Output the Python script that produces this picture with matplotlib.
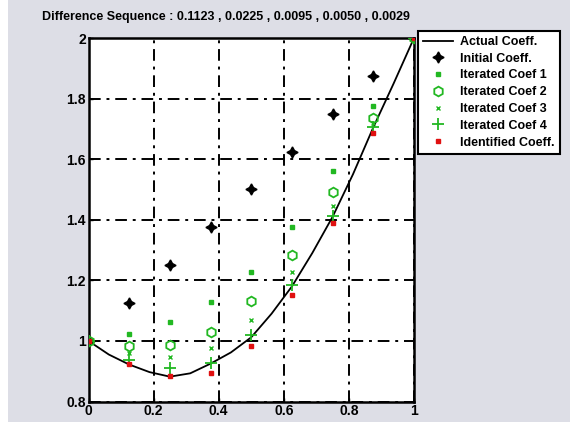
import matplotlib
matplotlib.use("Agg")
import matplotlib.pyplot as plt
from matplotlib.patches import Rectangle

plt.rcParams["font.family"] = ["Liberation Sans", "DejaVu Sans"]

# ---- data ----
x_pts = [0, 0.125, 0.25, 0.375, 0.5, 0.625, 0.75, 0.875, 1.0]
actual_x = [0, 0.0625, 0.125, 0.1875, 0.25, 0.3125, 0.375, 0.4375, 0.5,
            0.5625, 0.625, 0.6875, 0.75, 0.8125, 0.875, 0.9375, 1.0]
actual_y = [1.0, 0.955, 0.922, 0.897, 0.882, 0.893, 0.925, 0.962, 1.012,
            1.09, 1.18, 1.29, 1.41, 1.55, 1.705, 1.85, 2.0]
initial = [1.0, 1.125, 1.25, 1.375, 1.5, 1.625, 1.75, 1.875, 2.0]
iter1 = [1.0, 1.022, 1.062, 1.127, 1.229, 1.375, 1.56, 1.775, 2.0]
iter2 = [1.0, 0.982, 0.985, 1.029, 1.131, 1.282, 1.491, 1.737, 2.0]
iter3 = [1.0, 0.96, 0.946, 0.977, 1.069, 1.227, 1.445, 1.718, 2.0]
iter4 = [1.0, 0.938, 0.911, 0.928, 1.018, 1.184, 1.413, 1.705, 2.0]
identified = [1.0, 0.925, 0.884, 0.893, 0.982, 1.151, 1.388, 1.685, 2.0]
xticks = [0, 0.2, 0.4, 0.6, 0.8, 1]
xticklabels = ["0", "0.2", "0.4", "0.6", "0.8", "1"]
yticks = [0.8, 1.0, 1.2, 1.4, 1.6, 1.8, 2.0]
yticklabels = ["0.8", "1", "1.2", "1.4", "1.6", "1.8", "2"]
title = "Difference Sequence : 0.1123 , 0.0225 , 0.0095 , 0.0050 , 0.0029"
labels = ["Actual Coeff.", "Initial Coeff.", "Iterated Coef 1", "Iterated Coef 2",
          "Iterated Coef 3", "Iterated Coef 4", "Identified Coeff."]

W, H = 570, 428
fig = plt.figure(figsize=(W / 100, H / 100), dpi=100)
fig.patch.set_facecolor("white")
bg = Rectangle((8 / W, 6 / H), 1 - 8 / W, 1 - 6 / H, transform=fig.transFigure,
               facecolor="#dddee6", edgecolor="none", zorder=-10)
fig.patches.append(bg)

left, right, top, bottom = 88.5, 414, 38, 401.5
ax = fig.add_axes([left / W, 1 - bottom / H, (right - left) / W, (bottom - top) / H])
ax.set_zorder(1)
ax.set_facecolor("white")

green = "#22b822"
ax.plot(actual_x, actual_y, color="black", lw=1.3, label=labels[0], zorder=3)
ax.plot(x_pts, initial, ls="none", marker=(4, 1, 0), ms=8, color="black",
        mec="black", label=labels[1], zorder=4)
ax.plot(x_pts, iter1, ls="none", marker="s", ms=2.5, color=green, label=labels[2], zorder=4)
ax.plot(x_pts, iter2, ls="none", marker="h", ms=7, mfc="none", mec=green, mew=1.3,
        label=labels[3], zorder=4)
ax.plot(x_pts, iter3, ls="none", marker="x", ms=3.5, color=green, mew=1.0,
        label=labels[4], zorder=4)
ax.plot(x_pts, iter4, ls="none", marker="+", ms=9, color=green, mew=1.3,
        label=labels[5], zorder=4)
ax.plot(x_pts, identified, ls="none", marker="s", ms=3, color="#e01010",
        label=labels[6], zorder=5)

ax.set_xlim(0, 1)
ax.set_ylim(0.8, 2.0)
ax.set_xticks(xticks)
ax.set_xticklabels(xticklabels)
ax.set_yticks(yticks)
ax.set_yticklabels(yticklabels)
ax.tick_params(direction="in", length=3, width=1, labelsize=10, pad=2)
for lab in ax.get_xticklabels() + ax.get_yticklabels():
    lab.set_fontweight("bold")
ax.grid(True, color="black", ls=(0, (6, 3, 1.5, 3)), lw=1.4)
for s in ax.spines.values():
    s.set_linewidth(1.8)

fig.text(42 / W, 1 - 17 / H, title, fontsize=9, fontweight="bold",
         ha="left", va="center")

leg = fig.legend(loc="upper left", bbox_to_anchor=(418 / W, 1 - 31 / H),
                 fontsize=9, frameon=True, fancybox=False, borderpad=0.4,
                 labelspacing=0.38, handlelength=2.4, handletextpad=0.6,
                 borderaxespad=0)
leg.set_zorder(5)
leg.get_frame().set_edgecolor("black")
leg.get_frame().set_linewidth(1.5)
leg.get_frame().set_alpha(1)
for t in leg.get_texts():
    t.set_fontweight("bold")

fig.savefig("out.png", dpi=100)
